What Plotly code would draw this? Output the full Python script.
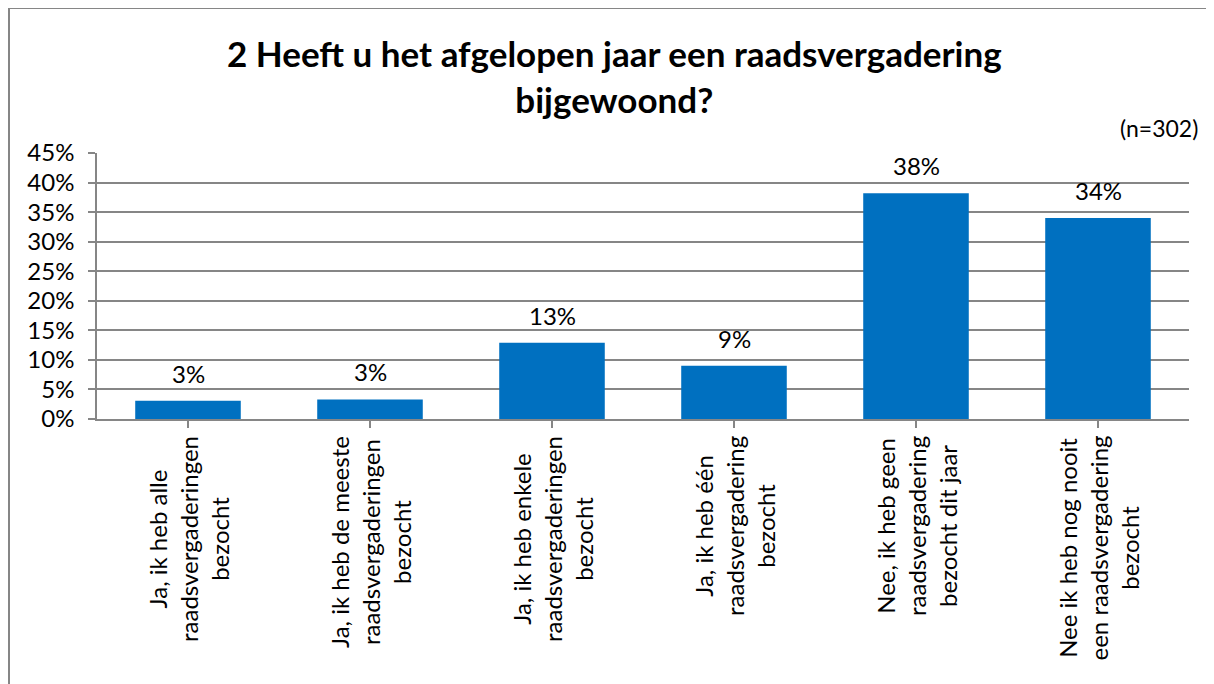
import plotly.graph_objects as go

categories = [
    "Ja, ik heb alle<br>raadsvergaderingen<br>bezocht",
    "Ja, ik heb de meeste<br>raadsvergaderingen<br>bezocht",
    "Ja, ik heb enkele<br>raadsvergaderingen<br>bezocht",
    "Ja, ik heb één<br>raadsvergadering<br>bezocht",
    "Nee, ik heb geen<br>raadsvergadering<br>bezocht dit jaar",
    "Nee ik heb nog nooit<br>een raadsvergadering<br>bezocht",
]
values = [3.1, 3.3, 12.9, 9.0, 38.2, 34.0]
y_ticks = [0, 5, 10, 15, 20, 25, 30, 35, 40, 45]
y_tick_labels = [f"{v}%" for v in y_ticks]
title_text = "2 Heeft u het afgelopen jaar een raadsvergadering<br>bijgewoond?"
note_text = "(n=302)"

FONT = "Lato"
W, H = 1214, 684
OFF = 8  # page body margin offset
L, R, T, B = 89, 33, 145, 273
PH = H - T - B
PW = W - L - R

def py(p):
    # page pixel y -> paper coordinate
    return (H - B - (p - OFF)) / PH

def px(p):
    # page pixel x -> paper coordinate
    return ((p - OFF) - L) / PW

fig = go.Figure()
fig.add_trace(go.Bar(
    x=list(range(len(categories))),
    y=values,
    marker=dict(color="#0070C0", line=dict(width=0)),
    width=0.58,
    hoverinfo="skip",
))

annotations = []
for i, v in enumerate(values):
    annotations.append(dict(
        x=i, y=v, xref="x", yref="y", text=f"{round(v):.0f}%",
        showarrow=False, yanchor="bottom", yshift=11,
        font=dict(family=FONT, size=24, color="#000000"),
    ))
for i, c in enumerate(categories):
    annotations.append(dict(
        x=i, y=py(434), xref="x", yref="paper", text=c,
        showarrow=False, yanchor="top", xanchor="center",
        textangle=-90, align="center",
        font=dict(family=FONT, size=24, color="#000000"),
    ))
annotations.append(dict(
    x=px(1200), y=py(128), xref="paper", yref="paper", text=note_text,
    showarrow=False, xanchor="right", yanchor="middle",
    font=dict(family=FONT, size=23, color="#000000"),
))
annotations.append(dict(
    x=px(614), y=py(30), xref="paper", yref="paper",
    text="<b>" + title_text + "</b>", showarrow=False,
    xanchor="center", yanchor="top", align="center",
    font=dict(family=FONT, size=35, color="#000000"),
))

fig.update_layout(
    width=W, height=H,
    margin=dict(l=L, r=R, t=T, b=B),
    paper_bgcolor="white", plot_bgcolor="white",
    showlegend=False,
    annotations=annotations,
    xaxis=dict(
        range=[-0.5, len(categories) - 0.5],
        tickmode="array", tickvals=list(range(len(categories))),
        showticklabels=False, tickson="boundaries",
        ticks="outside", ticklen=7, tickcolor="#868686", tickwidth=1.5,
        showline=True, linecolor="#868686", linewidth=1.5,
        showgrid=False, zeroline=False,
    ),
    yaxis=dict(
        range=[0, 45], tickmode="array", tickvals=y_ticks, ticktext=y_tick_labels,
        ticks="outside", ticklen=7, tickcolor="#868686", tickwidth=1.5,
        ticklabelstandoff=9,
        showline=True, linecolor="#868686", linewidth=1.5,
        showgrid=True, gridcolor="#868686", gridwidth=1.5,
        zeroline=False,
        tickfont=dict(family=FONT, size=24, color="#000000"),
    ),
    shapes=[dict(
        type="rect", xref="paper", yref="paper",
        x0=px(9), x1=px(1240), y0=py(710), y1=py(8),
        line=dict(color="#868686", width=2), fillcolor="rgba(0,0,0,0)",
        layer="below",
    )],
)

fig.write_html("out.html")
